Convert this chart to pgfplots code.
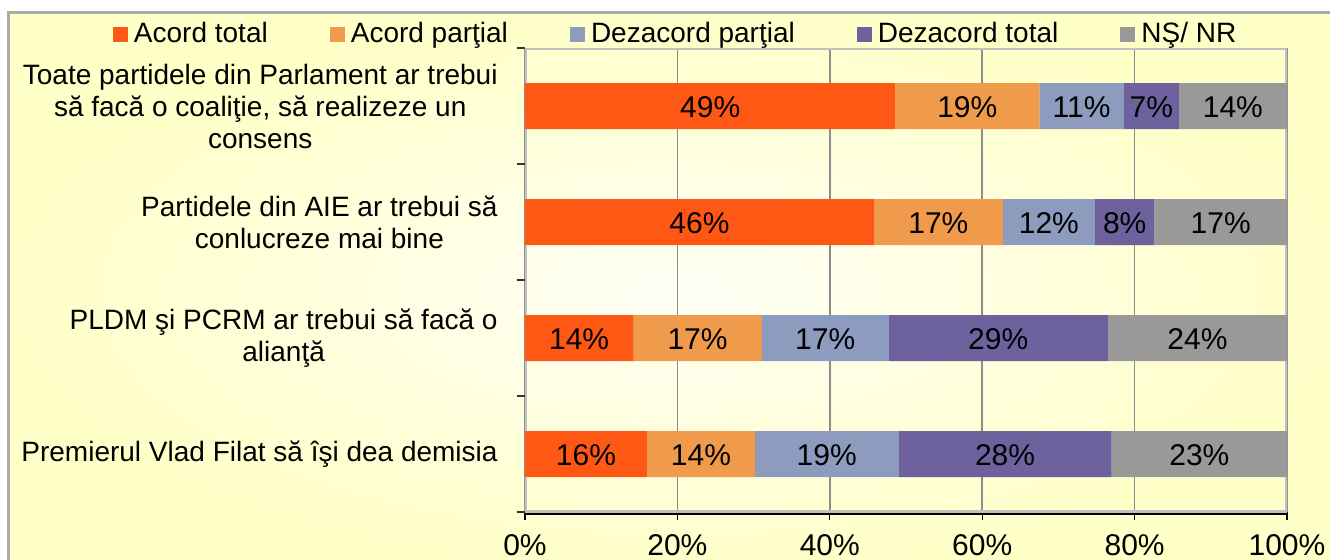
\documentclass[border=0pt]{standalone}
\usepackage{pgfplots}
\pgfplotsset{compat=1.18}
\usepackage{pgfplotstable}
\usepackage{fontspec}
\setmainfont{Liberation Sans}

\definecolor{cAT}{RGB}{255,87,20}
\definecolor{cAP}{RGB}{240,154,75}
\definecolor{cDP}{RGB}{140,155,190}
\definecolor{cDT}{RGB}{110,98,158}
\definecolor{cNS}{RGB}{153,153,153}
\definecolor{frame}{RGB}{192,192,192}
\definecolor{outer}{RGB}{170,170,170}

% share of answers, rows from bottom (0) to top (3)
\pgfplotstableread{
cat  at    ap    dp    dt    ns
3    48.6  18.9  11.1  7.2   14.2
2    45.8  16.9  12.1  7.8   17.4
1    14.2  16.9  16.6  28.8  23.5
0    16.0  14.2  18.8  28.0  23.0
}\survey

\newcommand\lbl{\fontsize{14}{16}\selectfont}
\newcommand\lblbig{\fontsize{15}{18}\selectfont}

\begin{document}
\begin{tikzpicture}[x=0.5pt,y=0.5pt]
\useasboundingbox (0,0) rectangle (1330,559);
\fill[white] (0,0) rectangle (1330,559);
\shade[inner color={rgb,255:red,255;green,255;blue,246},
       outer color={rgb,255:red,255;green,255;blue,200}] (8,-12) rectangle (1350,547);
\draw[outer, line width=1.5pt] (8,-12) -- (8,547) -- (1350,547);
\begin{axis}[
  at={(262.5pt,23.5pt)}, anchor=south west,
  scale only axis, width=381pt, height=232pt,
  xbar stacked, bar width=23pt,
  xmin=0, xmax=100, ymin=-0.5, ymax=3.5,
  axis x line*=bottom, axis y line*=left,
  x axis line style={draw=black, line width=0.6pt, yshift=-1pt},
  y axis line style={draw=none},
  /pgf/number format/assume math mode=true,
  tick label style={font=\lbl},
  xtick={0,20,...,100},
  xticklabel={\pgfmathprintnumber{\tick}\%},
  tick align=outside, major tick length=4pt,
  xtick style={draw=black, line width=0.6pt},
  xmajorgrids, major grid style={draw=black!45, line width=0.8pt},
  ytick={0,1,2,3},
  ytick style={draw=none},
  yticklabels={Premierul Vlad Filat să îşi dea demisia,
    {PLDM şi PCRM ar trebui să facă o\\alianţă},
    {Partidele din AIE ar trebui să\\conlucreze mai bine},
    {Toate partidele din Parlament ar trebui\\să facă o coaliţie, să realizeze un\\consens}},
  yticklabel style={align=center, anchor=east, inner sep=0pt, xshift=-9.5pt},
  xticklabel style={inner sep=0pt, yshift=-7pt, font=\lblbig},
  extra y ticks={-0.5,0.5,1.5,2.5,3.5},
  extra y tick labels={},
  extra y tick style={ytick style={draw=black!80, line width=0.6pt}, grid=none},
  nodes near coords={\pgfmathprintnumber[fixed,precision=0]{\pgfplotspointmeta}\%},
  point meta=explicit,
  every node near coord/.append style={anchor=center, font=\lblbig, text=black, yshift=-0.5pt},
  legend columns=5,
  legend style={draw=none, fill=none, font=\lbl, inner sep=0pt, outer sep=0pt,
    at={(-0.5407,1.0302)}, anchor=west,
    /tikz/every odd column/.append style={column sep=1pt},
    /tikz/every even column/.append style={column sep=29pt}},
  legend image code/.code={\fill[#1] (0pt,-3.75pt) rectangle (7.5pt,3.75pt);},
]
\addplot[fill=cAT, draw=none] table[x=at, y=cat, meta=at] {\survey};
\addplot[fill=cAP, draw=none] table[x=ap, y=cat, meta=ap] {\survey};
\addplot[fill=cDP, draw=none] table[x=dp, y=cat, meta=dp] {\survey};
\addplot[fill=cDT, draw=none] table[x=dt, y=cat, meta=dt] {\survey};
\addplot[fill=cNS, draw=none] table[x=ns, y=cat, meta=ns] {\survey};
\legend{Acord total, Acord parţial, Dezacord parţial, Dezacord total, NŞ/ NR}
\draw[frame, line width=2pt] (rel axis cs:0,0) rectangle (rel axis cs:1,1);
\end{axis}
\end{tikzpicture}
\end{document}
